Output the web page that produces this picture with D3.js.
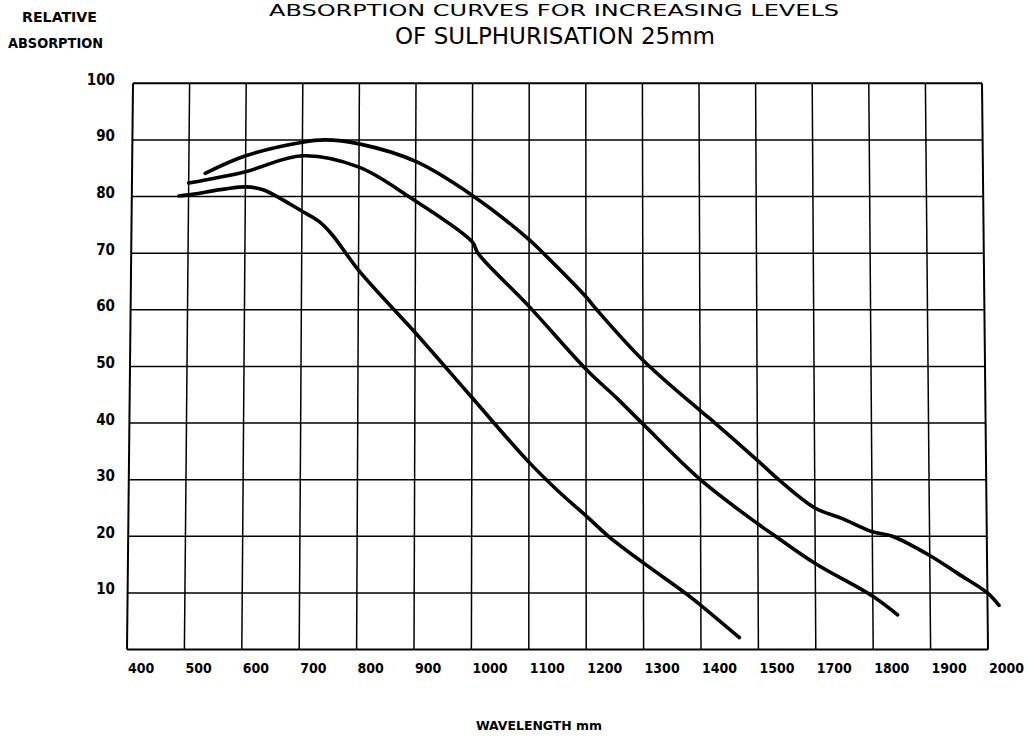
<!DOCTYPE html>
<html>
<head>
<meta charset="utf-8">
<script src="https://cdn.jsdelivr.net/npm/d3@7"></script>
<style>
  html, body { margin: 0; padding: 0; background: #fff; }
  svg { display: block; }
  text { fill: #000; }
</style>
</head>
<body>
<svg id="chart" width="1034" height="736"></svg>
<script>
// ---- data ----
const xTickLabels = ["400","500","600","700","800","900","1000","1100","1200","1300","1400","1500","1700","1800","1900","2000"];
const xTickValues = [400,500,600,700,800,900,1000,1100,1200,1300,1400,1500,1700,1800,1900,2000];
const yTickValues = [10,20,30,40,50,60,70,80,90,100];
const yGridValues = [0,10,20,30,40,50,60,70,80,90,100];

// curve with highest absorption (extends to 2000)
const curveA = [[529,84.1],[600,87.2],[700,89.6],[740,90],[800,89.3],[900,86.2],[1000,80.2],[1100,72.4],[1125,70],[1200,62.3],[1219,60],[1300,51.1],[1400,42.2],[1426,40],[1500,33.4],[1574,30],[1700,25],[1748,23.1],[1800,20.8],[1835,20],[1900,16.6],[1949,13.4],[2000,10],[2020,7.8]];
// middle curve (ends near 1800)
const curveB = [[500,82.4],[600,84.4],[700,87.2],[800,85.2],[888,80],[1000,72],[1010,70],[1100,60.6],[1200,49.5],[1254,44.4],[1300,39.8],[1400,30],[1500,22.2],[1562,20],[1700,15.2],[1800,9.4],[1843,6.1]];
// lowest curve (ends near 1450)
const curveC = [[483,80.1],[500,80.3],[600,81.7],[631,81.2],[700,77.4],[730,75.6],[753,73.3],[800,67],[863,60],[900,56],[1000,44.5],[1097,33.4],[1151,28],[1200,23.6],[1239,20],[1300,15.3],[1374,9.9],[1400,7.8],[1467,2.1]];
const curves = [curveA, curveB, curveC];

const titleLine1 = "ABSORPTION CURVES FOR INCREASING LEVELS";
const titleLine2 = "OF SULPHURISATION 25mm";
const yTitle1 = "RELATIVE";
const yTitle2 = "ABSORPTION";
const xTitle = "WAVELENGTH mm";

// ---- scales ----
const svg = d3.select("#chart");
// axis has a jump (1500 -> 1700 in one grid step): piecewise scale to grid index
const idx = d3.scaleLinear().domain([400,1500,1700,2000]).range([0,11,12,15]);
// the scanned grid is slightly keystoned: top edge narrower than bottom
const xBot = d3.scaleLinear().domain([0,15]).range([127,988]);
const xTop = d3.scaleLinear().domain([0,15]).range([133,982]);
const y = d3.scaleLinear().domain([0,100]).range([649.5,83.3]);
const t = d3.scaleLinear().domain([0,100]).range([0,1]);
function px(w, v) {
  const i = idx(w);
  return d3.interpolateNumber(xBot(i), xTop(i))(t(v));
}

const fontC = "'DejaVu Sans Condensed', 'DejaVu Sans', sans-serif";

// ---- grid ----
const grid = svg.append("g").attr("stroke", "#000").attr("fill", "none");
grid.selectAll("line.v").data(xTickValues).join("line")
  .attr("class", "v")
  .attr("x1", d => px(d, 0)).attr("y1", y(0))
  .attr("x2", d => px(d, 100)).attr("y2", y(100))
  .attr("stroke-width", (d, i) => (i === 0 || i === xTickValues.length - 1) ? 2 : 1.5);
grid.selectAll("line.h").data(yGridValues).join("line")
  .attr("class", "h")
  .attr("x1", d => px(400, d)).attr("y1", d => y(d))
  .attr("x2", d => px(2000, d)).attr("y2", d => y(d))
  .attr("stroke-width", d => (d === 0 || d === 100) ? 2 : 1.5);

// ---- curves ----
const line = d3.line()
  .x(d => px(d[0], d[1]))
  .y(d => y(d[1]))
  .curve(d3.curveCatmullRom.alpha(0.5));
svg.append("g").selectAll("path").data(curves).join("path")
  .attr("d", line)
  .attr("fill", "none")
  .attr("stroke", "#000")
  .attr("stroke-width", 3.6)
  .attr("stroke-linecap", "round")
  .attr("stroke-linejoin", "round");

// ---- tick labels ----
svg.append("g").selectAll("text").data(xTickValues).join("text")
  .attr("x", d => px(d, 0) + 1)
  .attr("y", 673)
  .attr("text-anchor", "start")
  .style("font-family", fontC)
  .style("font-weight", "bold")
  .style("font-size", "14px")
  .text((d, i) => xTickLabels[i]);

svg.append("g").selectAll("text").data(yTickValues).join("text")
  .attr("x", 115)
  .attr("y", d => y(d) + 1.5)
  .attr("text-anchor", "end")
  .style("font-family", fontC)
  .style("font-weight", "bold")
  .style("font-size", "15px")
  .text(d => d);

// ---- titles ----
svg.append("text")
  .attr("x", 269).attr("y", 15.5)
  .attr("textLength", 570).attr("lengthAdjust", "spacingAndGlyphs")
  .style("font-family", fontC).style("font-size", "16px")
  .text(titleLine1);
svg.append("text")
  .attr("x", 395).attr("y", 44)
  .attr("textLength", 320).attr("lengthAdjust", "spacingAndGlyphs")
  .style("font-family", fontC).style("font-size", "23px")
  .text(titleLine2);

svg.append("text")
  .attr("x", 22).attr("y", 21.7)
  .attr("textLength", 75).attr("lengthAdjust", "spacingAndGlyphs")
  .style("font-family", fontC).style("font-weight", "bold").style("font-size", "14px")
  .text(yTitle1);
svg.append("text")
  .attr("x", 8).attr("y", 48.3)
  .attr("textLength", 95).attr("lengthAdjust", "spacingAndGlyphs")
  .style("font-family", fontC).style("font-weight", "bold").style("font-size", "14px")
  .text(yTitle2);

svg.append("text")
  .attr("x", 476).attr("y", 730)
  .attr("textLength", 126).attr("lengthAdjust", "spacingAndGlyphs")
  .style("font-family", fontC).style("font-weight", "bold").style("font-size", "13px")
  .text(xTitle);
</script>
</body>
</html>
